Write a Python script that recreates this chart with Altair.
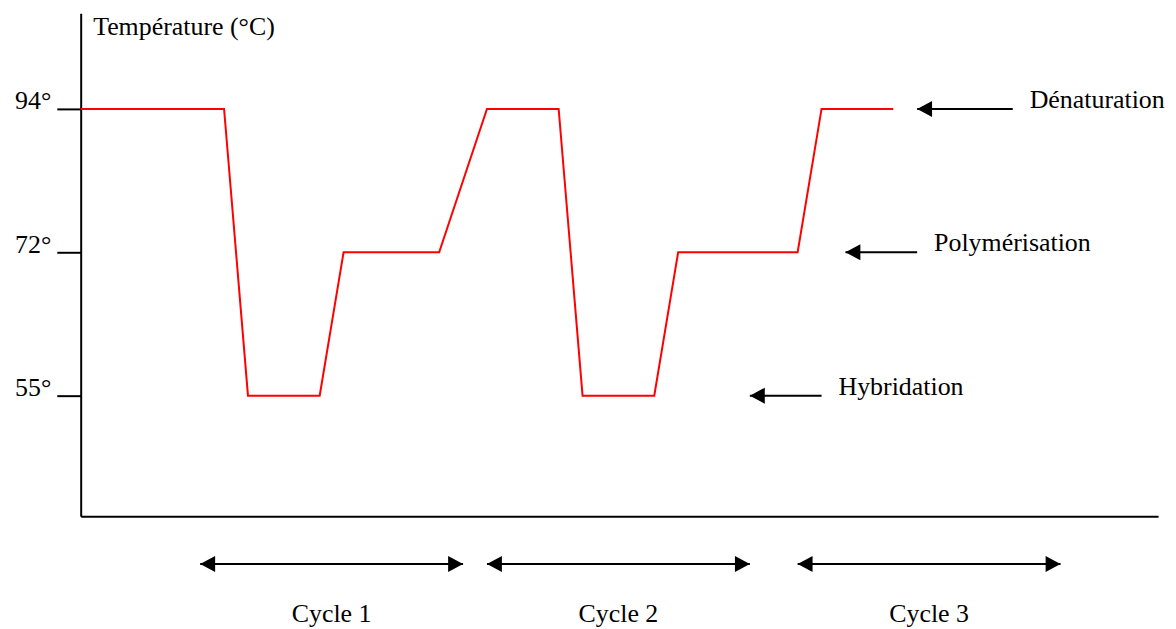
import altair as alt
import pandas as pd

# Temperature profile of the PCR cycles
time = [0, 6, 7, 10, 11, 15, 17, 20, 21, 24, 25, 30, 31, 34]
temp = [94, 94, 55, 55, 72, 72, 94, 94, 55, 55, 72, 72, 94, 94]

# Step annotations (arrow from -> to, at the step temperature)
steps = ["Dénaturation", "Polymérisation", "Hybridation"]
step_temp = [94, 72, 55]
step_from = [39, 35, 31]
step_to = [35, 32, 28]

# Cycle spans
cycles = ["Cycle 1", "Cycle 2", "Cycle 3"]
cycle_start = [5, 17, 30]
cycle_end = [16, 28, 41]

y_ticks = [55, 72, 94]

FONT = "Liberation Serif"
FS = 26
W, H = 1082, 505

profile = pd.DataFrame({"t": time, "temp": temp})
step_df = pd.DataFrame({"step": steps, "temp": step_temp, "x_from": step_from, "x_to": step_to})
cycle_df = pd.DataFrame({"cycle": cycles, "start": cycle_start, "end": cycle_end})

xscale = alt.Scale(domain=[0, 45.08], nice=False, zero=False)
yscale = alt.Scale(domain=[40, 55, 72, 94, 105], range=[505, 384, 240, 96, 0], nice=False, zero=False)

xaxis = alt.Axis(labels=False, ticks=False, grid=False, title=None,
                 domainColor="black", domainWidth=2)
yaxis = alt.Axis(values=y_ticks, labelExpr="datum.value + '°'", grid=False,
                 tickSize=24, tickWidth=2, tickColor="black",
                 domainColor="black", domainWidth=2,
                 labelFont=FONT, labelFontSize=FS, labelColor="black",
                 labelPadding=6, labelBaseline="alphabetic",
                 title="Température (°C)", titleAngle=0, titleX=12, titleY=21,
                 titleAlign="left", titleBaseline="alphabetic", titleFont=FONT,
                 titleFontSize=FS, titleFontWeight="normal", titleColor="black")

X = lambda f: alt.X(f, type="quantitative", scale=xscale, axis=xaxis)
Y = lambda f: alt.Y(f, type="quantitative", scale=yscale, axis=yaxis)

LEFT_HEAD = "M0,0L2,-1.07L2,1.07Z"
RIGHT_HEAD = "M0,0L-2,-1.07L-2,1.07Z"

line = alt.Chart(profile).mark_line(color="#ff0000", strokeWidth=2, clip=False).encode(
    x=X("t"), y=Y("temp"))

step_shaft = alt.Chart(step_df).mark_rule(color="black", strokeWidth=2, clip=False).encode(
    x=X("x_from"), x2="x_to", y=Y("temp"))
step_head = alt.Chart(step_df).mark_point(shape=LEFT_HEAD, size=225, filled=True, opacity=1,
                                          color="black", clip=False).encode(
    x=X("x_to"), y=Y("temp"))
step_text = alt.Chart(step_df).mark_text(font=FONT, fontSize=FS, color="black", align="left",
                                         baseline="alphabetic", dx=17, dy=-1, clip=False).encode(
    x=X("x_from"), y=Y("temp"), text="step:N")

CY = 553
cycle_shaft = alt.Chart(cycle_df).mark_rule(color="black", strokeWidth=2, clip=False).encode(
    x=X("start"), x2="end", y=alt.value(CY))
cycle_lhead = alt.Chart(cycle_df).mark_point(shape=LEFT_HEAD, size=225, filled=True, opacity=1,
                                             color="black", clip=False).encode(
    x=X("start"), y=alt.value(CY))
cycle_rhead = alt.Chart(cycle_df).mark_point(shape=RIGHT_HEAD, size=225, filled=True, opacity=1,
                                             color="black", clip=False).encode(
    x=X("end"), y=alt.value(CY))
cycle_text = alt.Chart(cycle_df).transform_calculate(
    mid="(datum.start + datum.end) / 2"
).mark_text(font=FONT, fontSize=FS, color="black", align="center",
            baseline="alphabetic", clip=False).encode(
    x=X("mid:Q"), y=alt.value(611), text="cycle:N")

chart = alt.layer(
    line, step_shaft, step_head, step_text,
    cycle_shaft, cycle_lhead, cycle_rhead, cycle_text
).properties(
    width=W, height=H,
    autosize=alt.AutoSizeParams(type="none"),
    padding={"left": 73, "top": 4, "right": 10, "bottom": 112},
    background="white",
).configure_view(stroke=None)

chart.save("out.html", embed_options={"renderer": "svg", "actions": False})
